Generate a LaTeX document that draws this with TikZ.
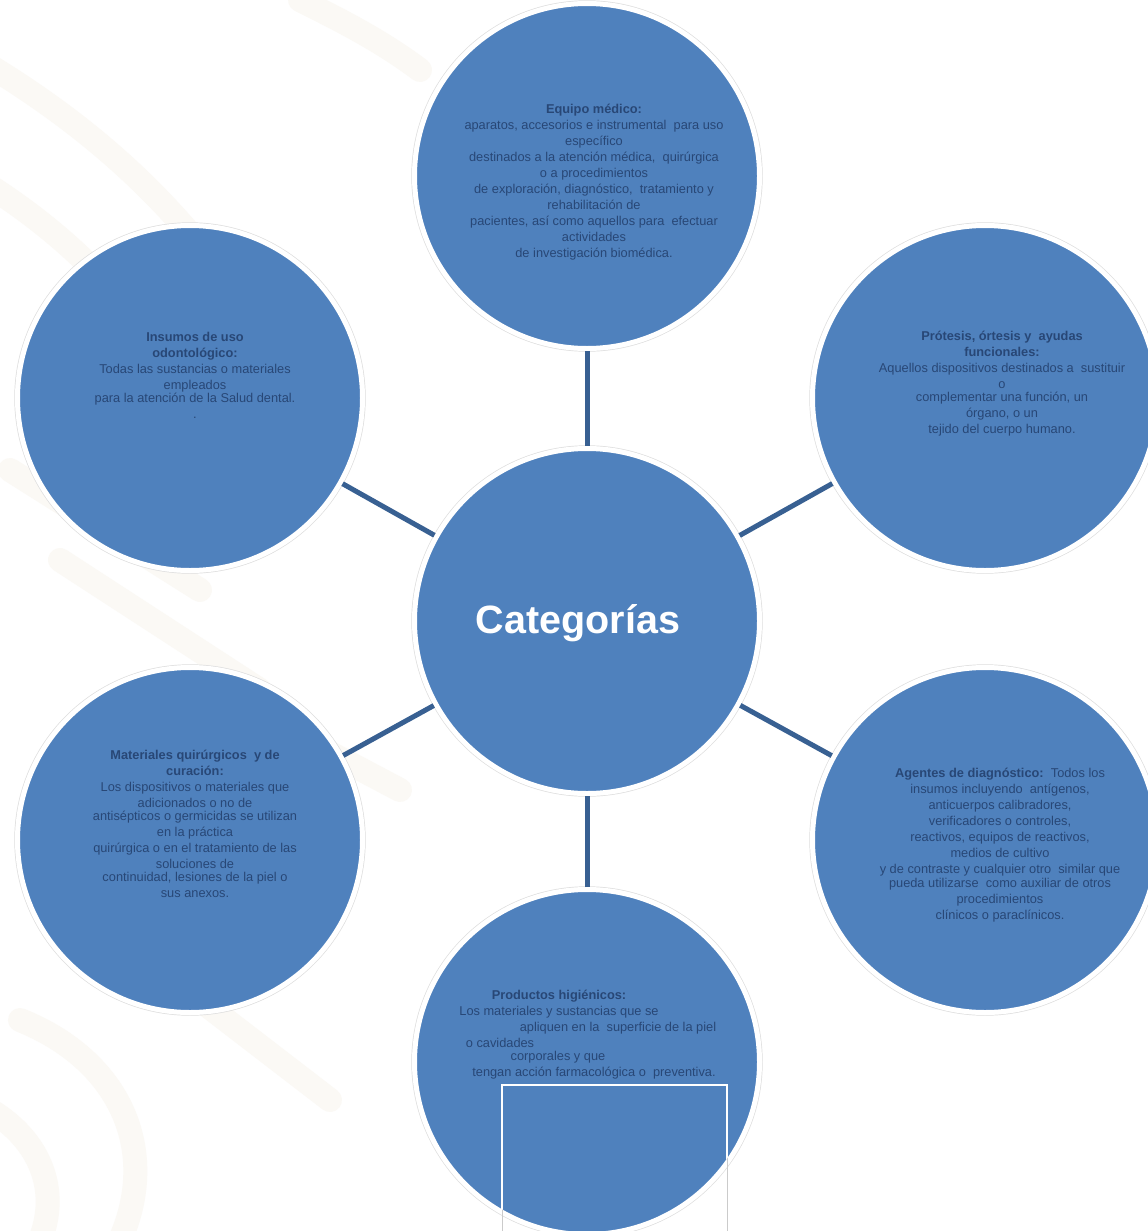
\documentclass[tikz,border=0pt]{standalone}
\usepackage{fontspec}
\setmainfont{Liberation Sans}
\definecolor{bfill}{RGB}{79,129,189}
\definecolor{conn}{RGB}{56,96,146}
\definecolor{tc}{RGB}{40,71,118}
\definecolor{wmark}{RGB}{251,249,245}
\definecolor{ring}{RGB}{222,222,222}
\tikzset{
  bubble/.style={circle, fill=bfill, draw=white, line width=5pt, minimum size=345pt, inner sep=0pt,
    preaction={draw=ring, line width=6.4pt}},
  link/.style={draw=conn, line width=5pt},
  txt/.style={text=tc, align=center, font=\fontsize{12.8}{16}\selectfont, inner sep=0pt},
  oneline/.style={txt, text height=9.5pt, text depth=2.7pt},
  wm/.style={draw=wmark, line width=24pt, line cap=round},
}
\begin{document}
\begin{tikzpicture}[x=1pt,y=-1pt]
\useasboundingbox (0,0) rectangle (1148,1231);
\clip (0,0) rectangle (1148,1231);
\fill[white] (0,0) rectangle (1148,1231);
% faint watermark
\draw[wm] (-20,60) .. controls (80,120) and (180,200) .. (260,330);
\draw[wm] (-20,180) .. controls (60,230) and (140,300) .. (200,420);
\draw[wm] (10,470) -- (200,590);
\draw[wm] (60,560) -- (260,690);
\draw[wm] (230,700) -- (400,790);
\draw[wm] (300,0) .. controls (340,20) and (380,40) .. (420,70);
\draw[wm] (20,1020) .. controls (120,1060) and (160,1150) .. (120,1240);
\draw[wm] (-10,1110) .. controls (40,1140) and (60,1190) .. (40,1240);
\draw[wm] (200,1000) -- (330,1100);
% circles
\node[bubble] (top) at (587,176) {};
\node[bubble] (ctr) at (587,621) {};
\node[bubble] (ul) at (190,398) {};
\node[bubble] (ur) at (985,398) {};
\node[bubble] (ll) at (190,840) {};
\node[bubble] (lr) at (985,840) {};
\node[bubble] (bot) at (587,1062) {};
% connectors
\draw[link] (top) -- (ctr);
\draw[link] (ul) -- (ctr);
\draw[link] (ur) -- (ctr);
\draw[link] (ll) -- (ctr);
\draw[link] (lr) -- (ctr);
\draw[link] (bot) -- (ctr);
% rectangle in bottom circle
\coordinate (ra) at (502,1085);
\coordinate (rb) at (727,1245);
\draw[ring!80!gray, line width=0.8pt] (ra) rectangle (rb);
\begin{scope}
  \clip (bot) circle [radius=170pt];
  \draw[white, line width=2pt] (ra) rectangle (rb);
\end{scope}
% texts
\node[text=white, font=\fontsize{39.5}{44}\selectfont\bfseries, inner sep=0pt] (ctrtxt) at (578,623) {Categorías};
\node[txt] (toptxt) at (594,182) {\textbf{Equipo médico:}\\
aparatos, accesorios e instrumental\ \ para uso\\
específico\\
destinados a la atención médica,\ \ quirúrgica\\
o a procedimientos\\
de exploración, diagnóstico,\ \ tratamiento y\\
rehabilitación de\\
pacientes, así como aquellos para\ \ efectuar\\
actividades\\
de investigación biomédica.};
\node[txt] (ultxt) at (195,375) {\textbf{Insumos de uso}\\
\textbf{odontológico:}\\
Todas las sustancias o materiales\\
empleados\\[-3pt]
para la atención de la Salud dental.\\
.};
\node[txt] (urtxt) at (1002,384) {\textbf{Prótesis, órtesis y\ \ ayudas}\\
\textbf{funcionales:}\\
Aquellos dispositivos destinados a\ \ sustituir\\
o\\[-3pt]
complementar una función, un\\
órgano, o un\\
tejido del cuerpo humano.};
\node[txt] (lltxt) at (195,824) {\textbf{Materiales quirúrgicos\ \ y de}\\
\textbf{curación:}\\
Los dispositivos o materiales que\\
adicionados o no de\\[-3pt]
antisépticos o germicidas se utilizan\\
en la práctica\\
quirúrgica o en el tratamiento de las\\
soluciones de\\[-3pt]
continuidad, lesiones de la piel o\\
sus anexos.};
\node[txt] (lrtxt) at (1000,845) {\textbf{Agentes de diagnóstico:}\ \ Todos los\\
insumos incluyendo\ \ antígenos,\\
anticuerpos calibradores,\\
verificadores o controles,\\
reactivos, equipos de reactivos,\\
medios de cultivo\\
y de contraste y cualquier otro\ \ similar que\\[-2pt]
pueda utilizarse\ \ como auxiliar de otros\\
procedimientos\\
clínicos o paraclínicos.};
\node[oneline] (b1) at (559,996) {\textbf{Productos higiénicos:}};
\node[oneline] (b2) at (559,1012) {Los materiales y sustancias que se};
\node[oneline] (b3) at (618,1028) {apliquen en la\ \ superficie de la piel};
\node[oneline] (b4) at (500,1044) {o cavidades};
\node[oneline] (b5) at (558,1057) {corporales y que};
\node[oneline] (b6) at (594,1073) {tengan acción farmacológica o\ \ preventiva.};
\end{tikzpicture}
\end{document}
